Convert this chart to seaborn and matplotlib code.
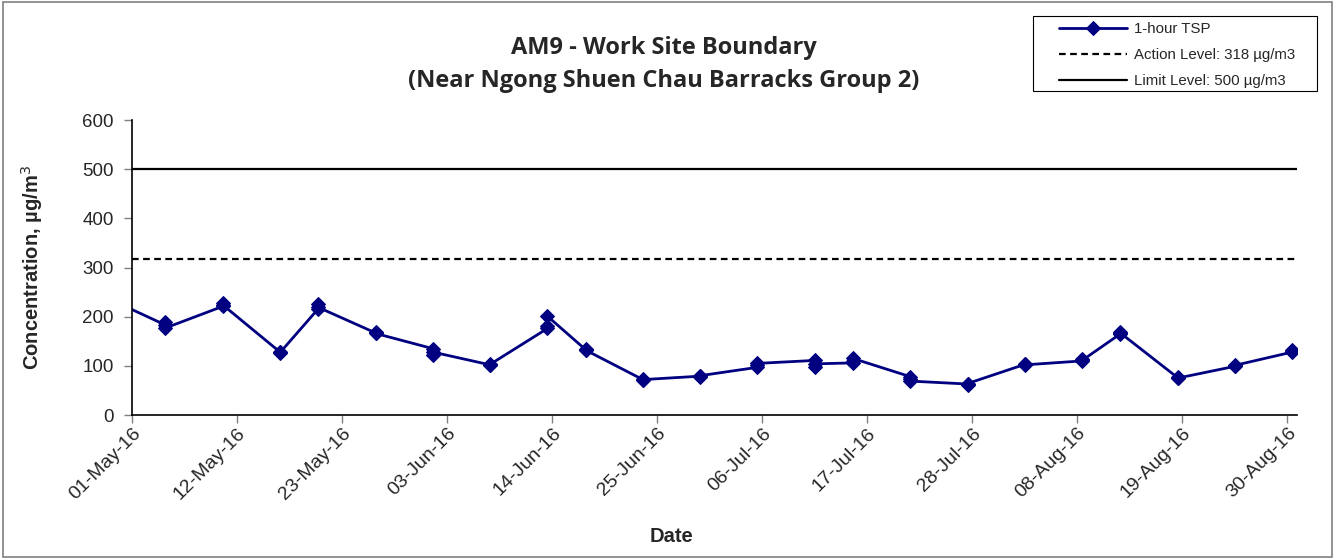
import matplotlib
matplotlib.use("Agg")
import matplotlib.pyplot as plt
import matplotlib.dates as mdates
from matplotlib.patches import Rectangle
import seaborn as sns
import pandas as pd

# sampling days (3 x 1-hour samples each); first one lies just before the axis start
sample_dates = ["2016-04-28", "2016-05-04", "2016-05-10", "2016-05-16", "2016-05-20",
                "2016-05-26", "2016-06-01", "2016-06-07", "2016-06-13", "2016-06-17",
                "2016-06-23", "2016-06-29", "2016-07-05", "2016-07-11", "2016-07-15",
                "2016-07-21", "2016-07-27", "2016-08-02", "2016-08-08", "2016-08-12",
                "2016-08-18", "2016-08-24", "2016-08-30"]
tsp_values = [
    [232, 235, 237], [183, 189, 177], [221, 228, 224], [128, 129, 127], [216, 225, 219],
    [167, 168, 166], [135, 122, 128], [102, 101, 103], [176, 182, 201], [133, 134, 132],
    [72, 73, 72], [79, 78, 80], [97, 101, 105], [111, 97, 104], [106, 109, 115],
    [78, 74, 69], [63, 62, 64], [103, 104, 102], [110, 113, 111], [165, 169, 167],
    [76, 77, 75], [99, 100, 101], [128, 131, 133],
]
action_level = 318
limit_level = 500
tick_dates = pd.date_range("2016-05-01", "2016-08-30", freq="11D")

rows = []
for d, vals in zip(sample_dates, tsp_values):
    for v in vals:
        rows.append({"date": pd.Timestamp(d), "tsp": v})
df = pd.DataFrame(rows)
# Excel date axis places points between tick marks (mid-day)
df["x"] = df["date"] + pd.Timedelta(hours=12)

sns.set_style("ticks")
plt.rcParams["font.family"] = ["Liberation Sans", "DejaVu Sans"]

fig = plt.figure(figsize=(13.35, 5.59), dpi=100)
ax = fig.add_axes([0.0989, 0.2576, 0.8726, 0.5277])

sns.lineplot(data=df, x="x", y="tsp", estimator=None, sort=False, ax=ax,
             color="#000080", linewidth=2, marker="D", markersize=7,
             markeredgecolor="#000080", label="1-hour TSP")
ax.axhline(action_level, color="black", linestyle=(0, (3, 2)), linewidth=1.6,
           label="Action Level: 318 µg/m3")
ax.axhline(limit_level, color="black", linewidth=1.6, label="Limit Level: 500 µg/m3")

ax.set_xlim(pd.Timestamp("2016-05-01"), pd.Timestamp("2016-08-31"))
ax.set_ylim(0, 600)
ax.set_yticks(range(0, 601, 100))
ax.set_xticks(tick_dates)
ax.xaxis.set_major_formatter(mdates.DateFormatter("%d-%b-%y"))
plt.setp(ax.get_xticklabels(), rotation=45, ha="right", rotation_mode="anchor")
ax.tick_params(axis="both", color="#808080", length=6, width=1)
ax.tick_params(axis="y", labelsize=13.5, pad=7)
ax.tick_params(axis="x", labelsize=14, pad=1)

for side in ["top", "right"]:
    ax.spines[side].set_visible(False)
for side in ["left", "bottom"]:
    ax.spines[side].set_color("black")
    ax.spines[side].set_linewidth(1.2)

ax.set_xlabel("Date", fontsize=14.5, fontweight="bold")
ax.set_ylabel("Concentration, µg/m$^3$", fontsize=14.5, fontweight="bold")
ax.xaxis.set_label_coords(0.4635, -0.38)
ax.yaxis.set_label_coords(-0.075, 0.5)

fig.text(0.497, 0.8846, "AM9 - Work Site Boundary\n(Near Ngong Shuen Chau Barracks Group 2)",
         ha="center", va="center", fontsize=17, fontweight="bold",
         family=["Open Sans", "DejaVu Sans"], linespacing=1.55)

# legend content without its own frame; the Excel-style box is drawn separately
leg = ax.legend(loc="upper left", bbox_to_anchor=(1053 / 1335, 1 - 16 / 559),
                bbox_transform=fig.transFigure, fontsize=10.8, frameon=False,
                handlelength=4.5, handletextpad=0.5, labelspacing=0.8,
                borderpad=0.4, borderaxespad=0)
fig.patches.append(Rectangle((1033 / 1335, 1 - 91 / 559), 284 / 1335, 75 / 559,
                             transform=fig.transFigure, fill=False,
                             edgecolor="black", linewidth=0.8))

fig.patches.append(Rectangle((0.002, 0.004), 0.996, 0.992, transform=fig.transFigure,
                             fill=False, edgecolor="#808080", linewidth=1.2))

fig.savefig("out.png", dpi=100)
